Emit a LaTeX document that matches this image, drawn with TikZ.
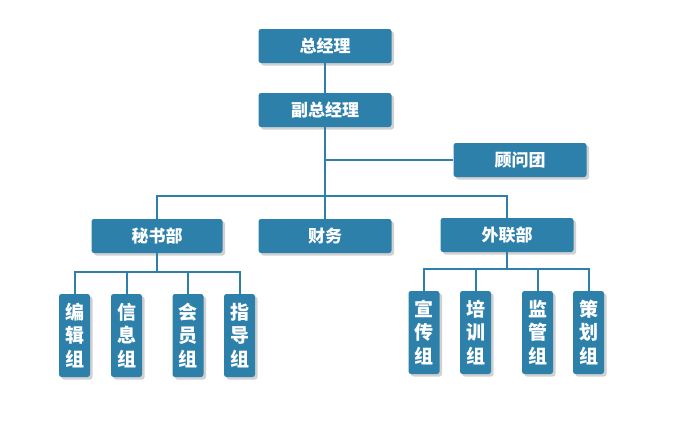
\documentclass[tikz,border=0pt]{standalone}
\usepackage{fontspec}
\newfontfamily\cjk{Noto Sans CJK SC}
\usetikzlibrary{shadows}
\definecolor{boxblue}{HTML}{2C80AA}
\tikzset{
  box/.style={fill=boxblue, draw=none, rounded corners=2.5pt, text=white,
    font=\cjk\bfseries\fontsize{17}{19}\selectfont, inner sep=0pt,
    drop shadow={shadow xshift=2.5pt, shadow yshift=-2.5pt, fill=black!18, opacity=1}},
  bigbox/.style={box, minimum width=133pt, minimum height=34pt},
  smallbox/.style={box, minimum width=31pt, minimum height=83pt, align=center,
    font=\cjk\bfseries\fontsize{19}{23.5}\selectfont},
  link/.style={draw=boxblue, line width=2pt}
}
\begin{document}
\begin{tikzpicture}[x=1pt,y=-1pt]
\useasboundingbox (0,0) rectangle (679,431);
\node[bigbox] (gm) at (325,46) {总经理};
\node[bigbox] (vgm) at (325,110) {副总经理};
\node[bigbox] (adv) at (520,160) {顾问团};
\node[bigbox, minimum width=131pt] (sec) at (157,236) {秘书部};
\node[bigbox] (fin) at (325,236) {财务};
\node[bigbox] (ext) at (507,235) {外联部};
\node[smallbox] (s1) at (74.5,335.5) {编\\辑\\组};
\node[smallbox] (s2) at (126.5,335.5) {信\\息\\组};
\node[smallbox] (s3) at (188,335.5) {会\\员\\组};
\node[smallbox] (s4) at (239.5,335.5) {指\\导\\组};
\node[smallbox] (e1) at (424,332.5) {宣\\传\\组};
\node[smallbox] (e2) at (475.5,332.5) {培\\训\\组};
\node[smallbox] (e3) at (537.5,332.5) {监\\管\\组};
\node[smallbox] (e4) at (588.5,332.5) {策\\划\\组};
\coordinate (advj) at (325,160);
\coordinate (busy) at (0,196);
\coordinate (secy) at (0,272);
\coordinate (exty) at (0,269);
\draw[link] (gm.south) -- (vgm.north);
\draw[link] (vgm.south) -- (fin.north);
\draw[link] (advj) -- (adv.west);
\draw[link] (sec.north) -- (sec.north |- busy) -- (ext.north |- busy) -- (ext.north);
\draw[link] (sec.south) -- (sec.south |- secy);
\draw[link] (s1.north) -- (s1.north |- secy) -- (s4.north |- secy) -- (s4.north);
\draw[link] (s2.north) -- (s2.north |- secy);
\draw[link] (s3.north) -- (s3.north |- secy);
\draw[link] (ext.south) -- (ext.south |- exty);
\draw[link] (e1.north) -- (e1.north |- exty) -- (e4.north |- exty) -- (e4.north);
\draw[link] (e2.north) -- (e2.north |- exty);
\draw[link] (e3.north) -- (e3.north |- exty);
\end{tikzpicture}
\end{document}
